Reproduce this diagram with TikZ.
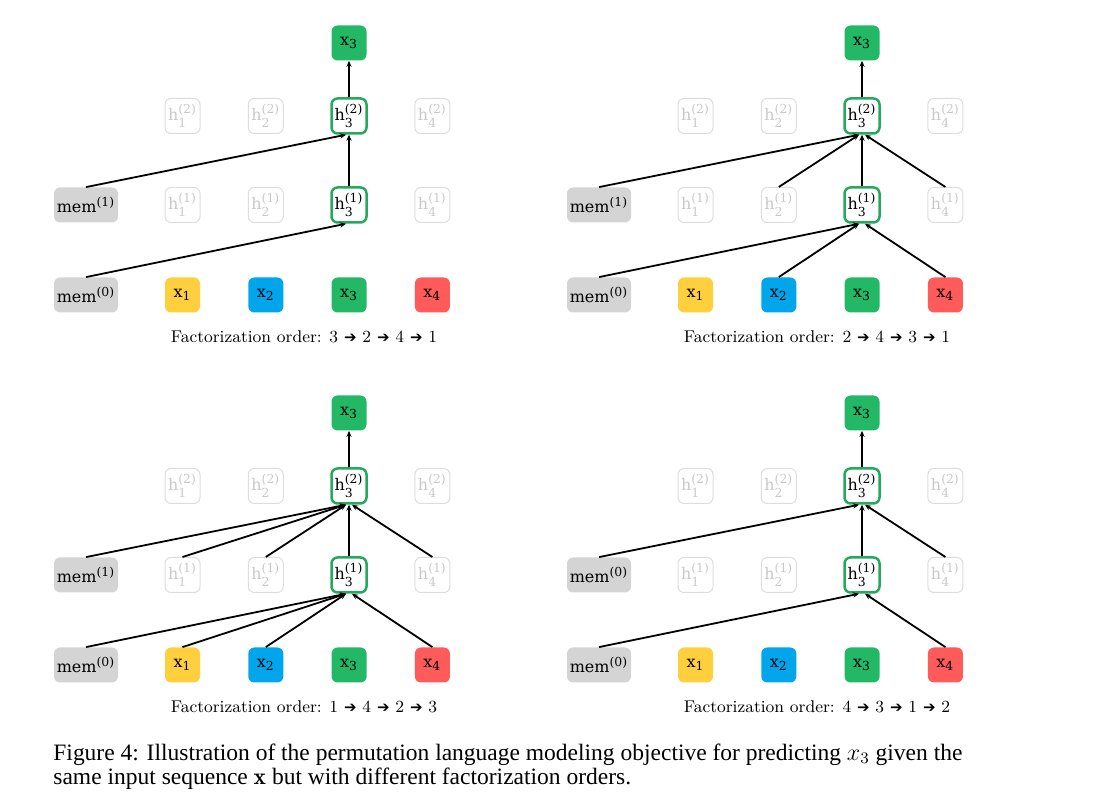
\documentclass[tikz,border=0pt]{standalone}
\usepackage{fontspec}
\usepackage{tikz}
\usepackage{xcolor}
\usetikzlibrary{arrows.meta, positioning}

\newfontfamily\capfont{Liberation Serif}
\newfontfamily\arrowfont{DejaVu Sans}
\newfontfamily\boxfont{DejaVu Serif}

\definecolor{xyellow}{HTML}{FFCF3D}
\definecolor{xblue}{HTML}{00A5EC}
\definecolor{xgreen}{HTML}{22B865}
\definecolor{xred}{HTML}{FF5B5B}
\definecolor{memgray}{HTML}{D4D4D4}
\definecolor{hgray}{HTML}{DDDDDD}
\definecolor{htext}{HTML}{C8C8C8}
\definecolor{hborder}{HTML}{25A95C}

\newcommand{\nodefont}{\fontsize{8}{9}\selectfont\boxfont}
\newcommand{\sml}[1]{\mbox{\fontsize{6.2}{7}\selectfont #1}}
\newcommand{\nxt}{ {\arrowfont\bfseries\fontsize{7.5}{8}\selectfont ➔} }

% one panel: #1 name prefix, #2 shift, #3 upper memory index, #4 order
\newcommand{\panel}[4]{%
  \begin{scope}[shift={#2}]
    \node[memnode] (#1m0) at (86,295) {mem$^{\sml{(0)}}$};
    \node[memnode] (#1m1) at (86,205) {mem$^{\sml{(#3)}}$};
    \foreach \i/\c in {1/xyellow,2/xblue,3/xgreen,4/xred} {
      \node[token, fill=\c] (#1x\i) at ({99.2+83.3*\i},295) {x$_{\sml{\i}}$};
    }
    \foreach \i in {1,2,4} {
      \node[hidden] (#1h1\i) at ({99.2+83.3*\i},205) {h$_{\sml{\i}}^{\sml{(1)}}$};
      \node[hidden] (#1h2\i) at ({99.2+83.3*\i},116) {h$_{\sml{\i}}^{\sml{(2)}}$};
    }
    \node[active] (#1h13) at (349,205) {h$_{\sml{3}}^{\sml{(1)}}$};
    \node[active] (#1h23) at (349,116) {h$_{\sml{3}}^{\sml{(2)}}$};
    \node[token, fill=xgreen] (#1top) at (349,43) {x$_{\sml{3}}$};
    \node[font=\fontsize{8.5}{10}\selectfont] (#1order) at (304,337) {Factorization order: #4};
    \draw[arrow] (#1h13) -- (#1h23);
    \draw[arrow] (#1h23) -- (#1top);
  \end{scope}}

\begin{document}
\begin{tikzpicture}[x=0.5pt, y=-0.5pt]

    % Define styles
    \tikzset{
      token/.style={rectangle, rounded corners=3pt, minimum size=17.5pt, inner sep=0pt, font=\nodefont},
      memnode/.style={token, fill=memgray, minimum width=32pt},
      hidden/.style={token, draw=hgray, text=htext, line width=0.5pt},
      active/.style={token, draw=hborder, fill=white, line width=1.25pt},
      arrow/.style={line width=0.9pt, -{Stealth[length=3pt, width=2.6pt]}}
    }

    \useasboundingbox (0,0) rectangle (1110,812);

    % Place panels
    \panel{a}{(0,0)}{1}{3\nxt 2\nxt 4\nxt 1}
    \panel{b}{(513,0)}{1}{2\nxt 4\nxt 3\nxt 1}
    \panel{c}{(0,370)}{1}{1\nxt 4\nxt 2\nxt 3}
    \panel{d}{(513,370)}{0}{4\nxt 3\nxt 1\nxt 2}

    % Panel a: 3 -> 2 -> 4 -> 1
    \draw [arrow] (am0.north) -- ([xshift=-1.5pt]ah13.south);
    \draw [arrow] (am1.north) -- ([xshift=-1.5pt]ah23.south);

    % Panel b: 2 -> 4 -> 3 -> 1
    \draw [arrow] (bm0.north) -- ([xshift=-1.5pt]bh13.south);
    \draw [arrow] (bx2.north) -- ([xshift=-1.5pt]bh13.south);
    \draw [arrow] (bx4.north) -- ([xshift=1.5pt]bh13.south);
    \draw [arrow] (bm1.north) -- ([xshift=-1.5pt]bh23.south);
    \draw [arrow] (bh12.north) -- ([xshift=-1.5pt]bh23.south);
    \draw [arrow] (bh14.north) -- ([xshift=1.5pt]bh23.south);

    % Panel c: 1 -> 4 -> 2 -> 3
    \draw [arrow] (cm0.north) -- ([xshift=-1.5pt]ch13.south);
    \draw [arrow] (cx1.north) -- ([xshift=-1.5pt]ch13.south);
    \draw [arrow] (cx2.north) -- ([xshift=-1.5pt]ch13.south);
    \draw [arrow] (cx4.north) -- ([xshift=1.5pt]ch13.south);
    \draw [arrow] (cm1.north) -- ([xshift=-1.5pt]ch23.south);
    \draw [arrow] (ch11.north) -- ([xshift=-1.5pt]ch23.south);
    \draw [arrow] (ch12.north) -- ([xshift=-1.5pt]ch23.south);
    \draw [arrow] (ch14.north) -- ([xshift=1.5pt]ch23.south);

    % Panel d: 4 -> 3 -> 1 -> 2
    \draw [arrow] (dm0.north) -- ([xshift=-1.5pt]dh13.south);
    \draw [arrow] (dx4.north) -- ([xshift=1.5pt]dh13.south);
    \draw [arrow] (dm1.north) -- ([xshift=-1.5pt]dh23.south);
    \draw [arrow] (dh14.north) -- ([xshift=1.5pt]dh23.south);

    % Caption
    \node [anchor=base west, align=left, inner sep=0pt, font=\fontsize{11.75}{12}\selectfont\capfont] (caption) at (53,784)
      {Figure 4: Illustration of the permutation language modeling objective for predicting $x_3$ given the\\
       same input sequence $\mathbf{x}$ but with different factorization orders.};

\end{tikzpicture}
\end{document}
